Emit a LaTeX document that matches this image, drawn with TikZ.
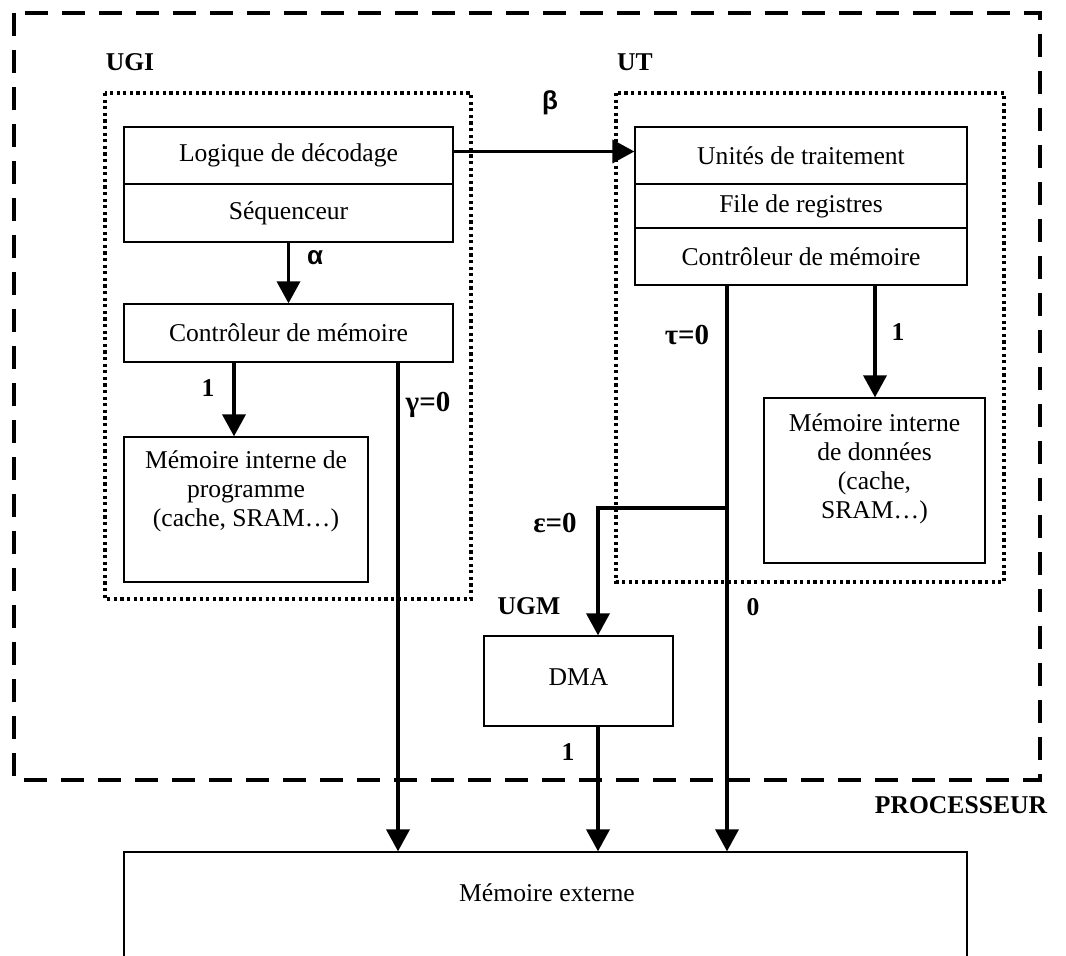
\documentclass[tikz,border=0pt]{standalone}
\usepackage{fontspec}
\setmainfont{Liberation Serif}
\newfontfamily\greeksans{Liberation Sans}
\usetikzlibrary{arrows.meta}
\begin{document}
\begin{tikzpicture}[x=0.5pt,y=-0.5pt,
  every node/.style={font=\fontsize{12.8pt}{14.5pt}\selectfont},
  box/.style={draw, line width=0.65pt, inner sep=0pt, align=center},
  txt/.style={align=center, inner sep=0pt},
  conn/.style={line width=1.8pt, -{Triangle[length=11pt,width=11.5pt]}},
  wire/.style={line width=1.8pt},
  lbl/.style={font=\fontsize{12.8pt}{14.5pt}\selectfont\bfseries, inner sep=0pt},
  glbl/.style={font=\fontsize{14.5pt}{16pt}\selectfont\bfseries, inner sep=0pt},
  slbl/.style={font=\fontsize{13pt}{15pt}\selectfont\greeksans\bfseries, inner sep=0pt},
  outer/.style={line width=2pt, dash pattern=on 11.5pt off 7pt},
  unit/.style={line width=1.6pt, dash pattern=on 1.6pt off 1.7pt},
]
\useasboundingbox (0,0) rectangle (1066,956);

% outer processor frame and unit frames
\draw[outer] (14,13) rectangle (1040,780);
\draw[unit] (105,93) rectangle (471,599);
\draw[unit] (616,93) rectangle (1004,582);

% UGI boxes
\node[box, minimum width=164.5pt, minimum height=28.5pt] (log) at (288.5,155.5) {Logique de décodage};
\node[box, minimum width=164.5pt, minimum height=29pt] (seq) at (288.5,213) {Séquenceur};
\node[box, minimum width=164.5pt, minimum height=29pt] (ctl1) at (288.5,333) {Contrôleur de mémoire};
\node[box, minimum width=122pt, minimum height=72.5pt] (mip) at (246,509.5) {};
\node[txt] (mipt) at (246,491) {Mémoire interne de\\programme\\(cache, SRAM…)};

% UT boxes
\node[box, minimum width=166pt, minimum height=28.5pt] (ut1) at (801,155.5) {Unités de traitement};
\node[box, minimum width=166pt, minimum height=22pt] (fil) at (801,206) {File de registres};
\node[box, minimum width=166pt, minimum height=28.5pt] (ctl2) at (801,256.5) {Contrôleur de mémoire};
\node[box, minimum width=110.5pt, minimum height=82.5pt] (mid) at (874.5,480.5) {};
\node[txt] (midt) at (874.5,469) {Mémoire interne\\de données\\(cache,\\SRAM…)};

% UGM
\node[box, minimum width=94.5pt, minimum height=45pt] (dma) at (578.5,681) {};
\node[txt] (dmat) at (578.5,677) {DMA};

% external memory
\node[box, minimum width=421.5pt, minimum height=74pt] (mex) at (545.5,926) {};
\node[txt] (mext) at (547,893) {Mémoire externe};

% connectors
\draw[conn] ([yshift=2pt]log.east) -- ([yshift=2pt]ut1.west);
\draw[conn] (seq.south) -- (ctl1.north);
\draw[conn] ([xshift=-27.25pt]ctl1.south) -- ([xshift=-6pt]mip.north);
\draw[conn] ([xshift=54.75pt]ctl1.south) -- ([xshift=-73.75pt]mex.north);
\draw[conn] ([xshift=37pt]ctl2.south) -- ([xshift=0.25pt]mid.north);
\draw[conn] ([xshift=-37pt]ctl2.south) -- ([xshift=90.75pt]mex.north);
\coordinate (jct) at (727,508);
\draw[conn] (jct) -| ([xshift=9.75pt]dma.north);
\draw[conn] ([xshift=9.75pt]dma.south) -- ([xshift=26.25pt]mex.north);

% labels
\node[lbl] (lugi) at (130,62) {UGI};
\node[lbl] (lut) at (635,62) {UT};
\node[lbl] (lugm) at (529,606) {UGM};
\node[lbl] (lproc) at (961,805) {PROCESSEUR};
\node[slbl] (lbeta) at (550,103) {β};
\node[slbl] (lalpha) at (315,258) {α};
\node[lbl] (l1a) at (208,388) {1};
\node[glbl] (lgam) at (428,405) {γ=0};
\node[glbl] (ltau) at (687,335) {τ=0};
\node[lbl] (l1b) at (898,332) {1};
\node[glbl] (leps) at (555,523) {ε=0};
\node[lbl] (l0) at (753,607) {0};
\node[lbl] (l1c) at (568,752) {1};
\end{tikzpicture}
\end{document}
